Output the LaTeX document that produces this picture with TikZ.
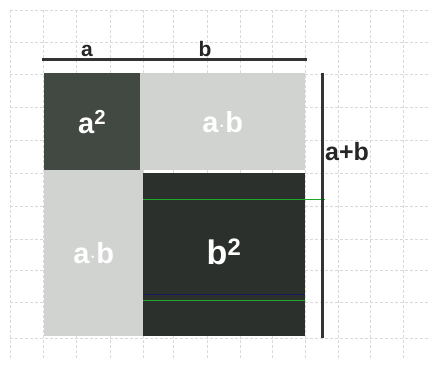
\documentclass[tikz,border=0pt]{standalone}
\usepackage{fontspec}
\setmainfont{Liberation Sans}
\definecolor{sqA}{RGB}{66,72,66}
\definecolor{sqB}{RGB}{44,48,44}
\definecolor{sqL}{RGB}{208,211,208}
\definecolor{gline}{RGB}{30,170,40}
\begin{document}
\begin{tikzpicture}[x=1pt,y=-1pt,
  gridline/.style={draw=black!15, line width=0.5pt, dash pattern=on 3pt off 2pt},
  sqbox/.style={draw=none, inner sep=0pt, anchor=north west},
  lbl/.style={font=\bfseries\fontsize{21}{23}\selectfont, text=black!85, inner sep=0pt},
  inlbl/.style={font=\bfseries\fontsize{29}{31}\selectfont, text=white, inner sep=0pt},
  bar/.style={line width=3pt, draw=black!80}]
\useasboundingbox (0,0) rectangle (437,367);
\fill[white] (0,0) rectangle (437,367);
% grid
\foreach \gx in {10,43,76,110,143,173,207,240,272,305,338,370,403} {\draw[gridline] (\gx,10) -- (\gx,360);}
\foreach \gy in {10,42,74,107,140,173,206,239,270,302,338} {\draw[gridline] (10,\gy) -- (430,\gy);}
% boxes
\node[sqbox, minimum width=96pt, minimum height=97pt, fill=sqA] (a2) at (44,73) {};
\node[sqbox, minimum width=165pt, minimum height=97pt, fill=sqL] (ab1) at (140,73) {};
\node[sqbox, minimum width=99pt, minimum height=166pt, fill=sqL] (ab2) at (44,170) {};
\node[sqbox, minimum width=162pt, minimum height=163pt, fill=sqB] (b2) at (143,173) {};
% coloured scan lines
\draw[gline, line width=1pt] (143,199) -- (325,199);
\draw[gline, line width=1pt] (143,300) -- (305,300);
\draw[blue!60!black, line width=0.8pt, opacity=0.4] (143,294) -- (305,294);
% texts
\node[inlbl] (ta2) at (a2.center) {a\textsuperscript{2}};
\node[inlbl] (tab1) at (ab1.center) {a$\cdot$b};
\node[inlbl] (tab2) at (ab2.center) {a$\cdot$b};
\node[inlbl, font=\bfseries\fontsize{34}{36}\selectfont] (tb2) at (224,252) {b\textsuperscript{2}};
% bars
\coordinate (h1) at (42,59);
\coordinate (h2) at (307,59);
\draw[bar] (h1) -- (h2);
\coordinate (v1) at (322,73);
\coordinate (v2) at (322,338);
\draw[bar] (v1) -- (v2);
\node[lbl, anchor=base] (la) at (87,56) {a};
\node[lbl, anchor=base] (lb) at (205,56) {b};
\node[lbl, font=\bfseries\fontsize{25}{27}\selectfont, anchor=west] (lab) at (325,152) {a+b};
\end{tikzpicture}
\end{document}
